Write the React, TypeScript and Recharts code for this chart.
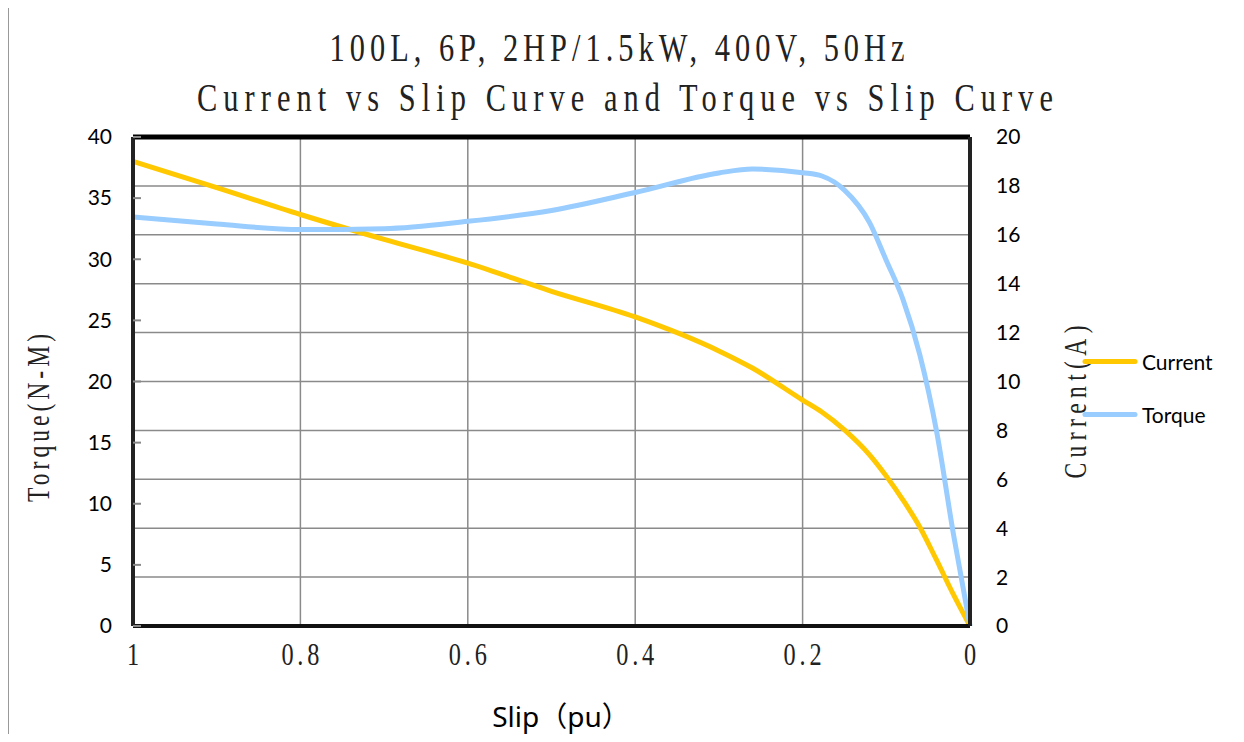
import React from "react";
import {
  LineChart, Line, XAxis, YAxis, CartesianGrid, ReferenceLine
} from "recharts";

// slip (pu) and the two read-off series
const slip = [1, 0.9, 0.8, 0.7, 0.6, 0.5, 0.4, 0.3, 0.26, 0.2, 0.177, 0.15, 0.12, 0.1, 0.08, 0.06, 0.04, 0.02, 0];
const current = [19.0, 17.93, 16.83, 15.81, 14.84, 13.69, 12.64, 11.25, 10.55, 9.24, 8.75, 8.02, 7.0, 6.13, 5.15, 4.05, 2.7, 1.3, 0];
const torque = [33.46, 32.88, 32.43, 32.5, 33.1, 33.99, 35.46, 37.06, 37.38, 37.08, 36.81, 35.66, 33.0, 29.9, 26.7, 22.2, 15.95, 7.6, 0];

const slipTicks = [1, 0.8, 0.6, 0.4, 0.2, 0];
const torqueTicks = [0, 5, 10, 15, 20, 25, 30, 35, 40];
const currentTicks = [0, 2, 4, 6, 8, 10, 12, 14, 16, 18, 20];

const titleLines = ["100L, 6P, 2HP/1.5kW, 400V, 50Hz", "Current vs Slip Curve and Torque vs Slip Curve"];

const CURRENT_COLOR = "#FFC800";
const TORQUE_COLOR = "#99CCFF";
const SERIF = "'Liberation Serif', 'DejaVu Serif', serif";
const SANS = "Lato, 'Noto Sans', sans-serif";
const SQUEEZE = 0.76;

const data = slip.map((s, i) => ({ slip: s, current: current[i], torque: torque[i] }));

// narrow tall serif text, like the original's CJK half-width font
const Narrow = ({ x, y, rotate = 0, size, width, children }: any) => (
  <text
    transform={`translate(${x},${y}) rotate(${rotate}) scale(${SQUEEZE},1)`}
    textAnchor="middle" dominantBaseline="central"
    fontFamily={SERIF} fontSize={size} fill="#222"
    {...(width ? { textLength: width / SQUEEZE, lengthAdjust: "spacing" } : {})}
  >
    {children}
  </text>
);

const LeftTick = (props: any) => {
  const { x, y, payload } = props;
  return (
    <g>
      <line x1={x + 21} x2={x + 29} y1={y} y2={y} stroke="#888" strokeWidth={2} />
      <text x={x} y={y} dy="0.35em" textAnchor="end" fontFamily={SANS} fontSize={21} fill="#000">
        {payload.value}
      </text>
    </g>
  );
};

const BottomTick = (props: any) => {
  const { x, y, payload } = props;
  const label = String(payload.value);
  return (
    <Narrow x={x} y={y + 28} size={32} width={label.length > 1 ? 38 : undefined}>
      {label}
    </Narrow>
  );
};

export default function App() {
  return (
    <div style={{ position: "relative", width: 1228, height: 726 }}>
      <div style={{ position: "absolute", left: 0, top: -1, width: 1236, height: 1, background: "#999" }} />
      <div style={{ position: "absolute", left: 0, top: -1, width: 1, height: 740, background: "#999" }} />

      <LineChart width={1228} height={726} data={data}
        margin={{ top: 129, right: 206, left: 65, bottom: 78 }}>
        <CartesianGrid yAxisId="right" stroke="#8a8a8a" strokeWidth={1.5} />
        <XAxis dataKey="slip" type="number" domain={[0, 1]} reversed ticks={slipTicks}
          tick={<BottomTick />} tickSize={0} tickMargin={0} height={30}
          axisLine={{ stroke: "#111", strokeWidth: 4 }} tickLine={false} />
        <YAxis yAxisId="left" orientation="left" domain={[0, 40]} ticks={torqueTicks}
          width={60} tickSize={0} tickMargin={21} tick={<LeftTick />}
          axisLine={{ stroke: "#222", strokeWidth: 4 }} tickLine={false} />
        <YAxis yAxisId="right" orientation="right" domain={[0, 20]} ticks={currentTicks}
          width={60} tickSize={0} tickMargin={26}
          tick={{ fontFamily: SANS, fontSize: 21, fill: "#000" }}
          axisLine={{ stroke: "#222", strokeWidth: 4 }} tickLine={false} />
        <ReferenceLine yAxisId="left" y={40} stroke="#000" strokeWidth={5} />
        <Line yAxisId="right" type="monotone" dataKey="current" stroke={CURRENT_COLOR}
          strokeWidth={5} dot={false} isAnimationActive={false} />
        <Line yAxisId="left" type="monotone" dataKey="torque" stroke={TORQUE_COLOR}
          strokeWidth={5} dot={false} isAnimationActive={false} />
      </LineChart>

      <svg width={1228} height={726} style={{ position: "absolute", left: 0, top: 0, pointerEvents: "none" }}>
        <Narrow x={609} y={39} size={40} width={575}>{titleLines[0]}</Narrow>
        <Narrow x={617} y={89} size={40} width={856}>{titleLines[1]}</Narrow>
        <Narrow x={30} y={410} rotate={-90} size={31} width={168}>Torque(N-M)</Narrow>
        <Narrow x={1067} y={394} rotate={-90} size={31} width={153}>Current(A)</Narrow>
      </svg>

      <div style={{
        position: "absolute", left: 553, top: 707, transform: "translate(-50%,-50%)", whiteSpace: "pre",
        fontFamily: "'Noto Sans', 'Noto Sans CJK SC', sans-serif", fontSize: 28, color: "#000"
      }}>Slip（pu）</div>

      {[
        { name: "Current", color: CURRENT_COLOR, y: 353 },
        { name: "Torque", color: TORQUE_COLOR, y: 406 }
      ].map((s) => (
        <div key={s.name} style={{
          position: "absolute", left: 1074, top: s.y, transform: "translateY(-50%)",
          display: "flex", alignItems: "center"
        }}>
          <svg width={56} height={8}>
            <line x1={3} x2={53} y1={4} y2={4} stroke={s.color} strokeWidth={5} strokeLinecap="round" />
          </svg>
          <span style={{ fontFamily: SANS, fontSize: 21, marginLeft: 4, color: "#000" }}>{s.name}</span>
        </div>
      ))}
    </div>
  );
}
